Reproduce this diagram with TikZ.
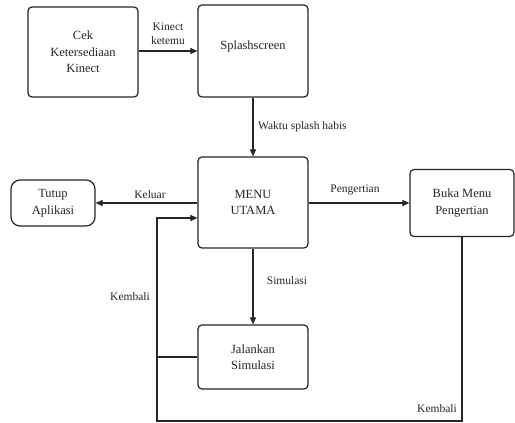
\documentclass[tikz,border=0pt]{standalone}
\usepackage{fontspec}
\newfontfamily\serifA{Liberation Serif}
\usetikzlibrary{arrows.meta}
\begin{document}
\begin{tikzpicture}[x=1pt,y=-1pt,
  box/.style={draw, line width=1.2pt, rounded corners=4pt, align=center,
    font=\serifA\fontsize{12.5}{16.5}\selectfont, inner sep=0pt, color=black!85, text=black!85},
  term/.style={box, rounded corners=9pt},
  lbl/.style={font=\serifA\fontsize{11.5}{14}\selectfont, text=black!85, inner sep=0pt, align=center},
  arr/.style={draw, line width=1.1pt, color=black!85, -{Triangle[length=7pt,width=6pt]}},
  ln/.style={draw, line width=1.1pt, color=black!85}]
\useasboundingbox (0,0) rectangle (515,423);
\clip (0,0) rectangle (515,423);
\fill[white] (0,0) rectangle (515,423);

\node[box, minimum width=110pt, minimum height=90pt] (cek) at (83,52) {Cek\\Ketersediaan\\Kinect};
\node[box, minimum width=110pt, minimum height=92pt, text height=9pt, text depth=12pt] (splash) at (253,51) {Splashscreen};
\node[box, minimum width=110pt, minimum height=91pt] (menu) at (253,202.5) {MENU\\UTAMA};
\node[term, minimum width=84pt, minimum height=46pt] (tutup) at (53,203) {Tutup\\Aplikasi};
\node[box, minimum width=104pt, minimum height=67pt] (buka) at (462,203) {Buka Menu\\Pengertian};
\node[box, minimum width=110pt, minimum height=64pt] (jalan) at (253,357) {Jalankan\\Simulasi};

\coordinate (bl) at (157,421);
\coordinate (tl) at (157,218);

\draw[arr] (cek.east |- 0,51) -- (splash.west |- 0,51);
\draw[arr] (splash.south) -- (menu.north);
\draw[arr] (menu.west |- 0,203) -- (tutup.east |- 0,203);
\draw[arr] (menu.east |- 0,203) -- (buka.west |- 0,203);
\draw[arr] (menu.south) -- (jalan.north);
\draw[arr] (buka.south) |- (bl) -- (tl) -- (menu.west |- tl);
\draw[ln] (jalan.west) -- (jalan.west -| bl);

\node[lbl] (l1) at (168,34) {Kinect\\ketemu};
\node[lbl, anchor=west] (l2) at (258,127) {Waktu splash habis};
\node[lbl] (l3) at (150,195) {Keluar};
\node[lbl] (l4) at (355,190) {Pengertian};
\node[lbl] (l5) at (287,281) {Simulasi};
\node[lbl] (l6) at (130,297) {Kembali};
\node[lbl] (l7) at (437,409) {Kembali};
\end{tikzpicture}
\end{document}
